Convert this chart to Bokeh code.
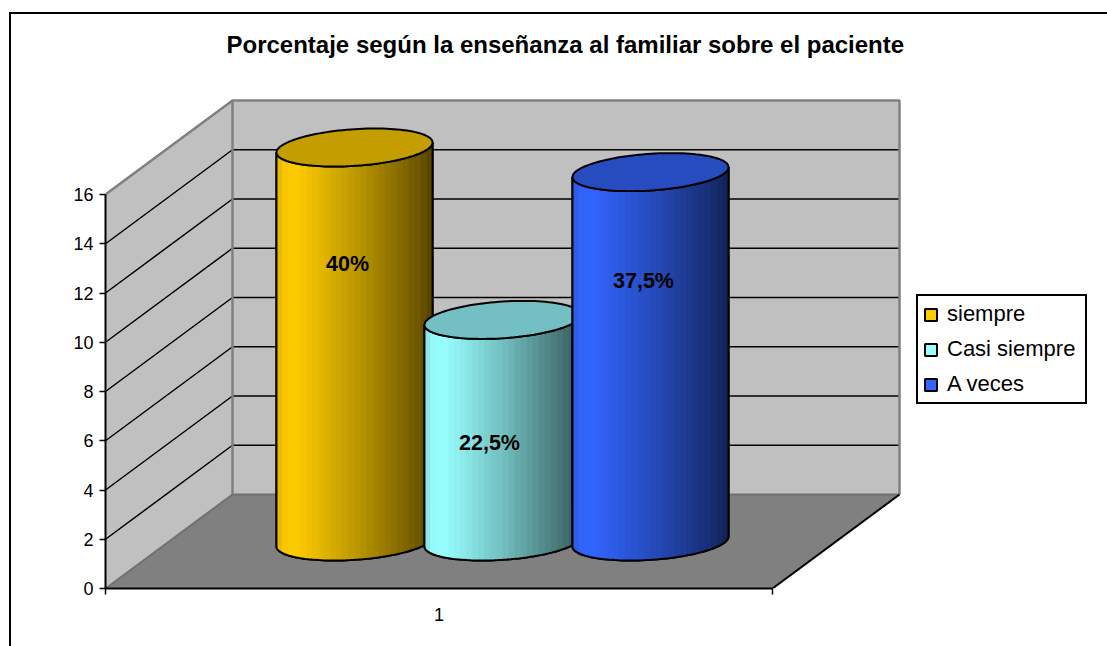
import numpy as np
from bokeh.embed import file_html
from bokeh.resources import INLINE
from bokeh.plotting import figure
from bokeh.models import Range1d, FixedTicker, Legend, LegendItem, Title
from bokeh.core.properties import value

# ---- data ----
TITLE = "Porcentaje según la enseñanza al familiar sobre el paciente"
series = ["siempre", "Casi siempre", "A veces"]
counts = [16, 9, 15]
labels = ["40%", "22,5%", "37,5%"]
y_ticks = [0, 2, 4, 6, 8, 10, 12, 14, 16]
grid_values = [2, 4, 6, 8, 10, 12, 14]
category_ticks = [1]
category_names = {1: "1"}

# ---- style ----
base_colors = ["#FFCC00", "#99FFFF", "#3366FF"]
top_colors = ["#C49D00", "#73BFC4", "#264CBF"]
FONT = "Liberation Sans"
WALL = "#C0C0C0"
FLOOR = "#808080"

# ---- layout (px) ----
PX_PER_X = 667.0
PX_PER_Y = 24.625
FRAME_W, FRAME_H = 995, 522
XMIN = 0.5
XMAX = 1.5
dx3 = 127 / PX_PER_X          # depth shift in x
dy3 = 94 / PX_PER_Y           # depth shift in y
ymax = 16

p = figure(width=1096, height=632, frame_width=FRAME_W, frame_height=FRAME_H,
           x_range=Range1d(XMIN, XMIN + FRAME_W / PX_PER_X),
           y_range=Range1d(0, FRAME_H / PX_PER_Y),
           output_backend="svg", toolbar_location=None,
           min_border_left=94, min_border_right=7, min_border_top=52, min_border_bottom=58,
           background_fill_color="white", border_fill_color="white", outline_line_color=None,
           margin=(14, 0, 0, 11), styles={"box-shadow": "-1px -1px 0 1px black"})
p.grid.visible = False

# title
p.title = Title(text=TITLE, text_font=FONT, text_font_style="bold", text_font_size="24px",
                text_color="black", align="left", offset=121, standoff=18)

# axes
ya = p.yaxis[0]
ya.ticker = FixedTicker(ticks=y_ticks)
ya.bounds = (0, ymax)
ya.major_label_text_font = FONT
ya.major_label_text_font_size = "18px"
ya.major_label_text_color = "black"
ya.major_tick_in = 0
ya.major_tick_out = 6
ya.minor_tick_in = 0
ya.minor_tick_out = 0
ya.axis_line_color = "black"
ya.axis_line_width = 2
ya.major_tick_line_color = "black"
ya.major_tick_line_width = 1.5
ya.major_label_standoff = 6

xa = p.xaxis[0]
xa.ticker = FixedTicker(ticks=category_ticks, minor_ticks=[XMIN, XMAX])
xa.bounds = (XMIN, XMAX)
xa.major_label_overrides = category_names
xa.major_label_text_font = FONT
xa.major_label_text_font_size = "18px"
xa.major_label_text_color = "black"
xa.major_tick_in = 0
xa.major_tick_out = 0
xa.minor_tick_in = 0
xa.minor_tick_out = 6
xa.minor_tick_line_color = "black"
xa.minor_tick_line_width = 1.5
xa.axis_line_color = "black"
xa.axis_line_width = 2
xa.major_label_standoff = 13

# walls and floor
p.patch([XMIN, XMIN + dx3, XMIN + dx3, XMIN], [0, dy3, ymax + dy3, ymax],
        fill_color=WALL, line_color=None)
p.patch([XMIN + dx3, XMAX + dx3, XMAX + dx3, XMIN + dx3], [dy3, dy3, ymax + dy3, ymax + dy3],
        fill_color=WALL, line_color=None)
p.patch([XMIN, XMAX, XMAX + dx3, XMIN + dx3], [0, 0, dy3, dy3],
        fill_color=FLOOR, line_color=None)

# grid lines
gx = [[XMIN, XMIN + dx3, XMAX + dx3] for _ in grid_values]
gy = [[v, v + dy3, v + dy3] for v in grid_values]
p.multi_line(gx, gy, line_color="black", line_width=1.5)

# wall edges
p.line([XMIN, XMIN + dx3, XMAX + dx3, XMAX + dx3], [ymax, ymax + dy3, ymax + dy3, dy3],
       line_color=FLOOR, line_width=2.5)
p.line([XMIN + dx3, XMIN + dx3], [dy3, ymax + dy3], line_color=FLOOR, line_width=2.5)
p.line([XMIN + dx3, XMAX + dx3], [dy3, dy3], line_color="#707070", line_width=2)
p.line([XMIN, XMIN + dx3], [0, dy3], line_color="#707070", line_width=2)
p.line([XMAX, XMAX + dx3], [0, dy3], line_color="black", line_width=2)

# cylinders
R_X = 75.3 / PX_PER_X
SKEW_X = 20.5 / PX_PER_X
R_Y = 19.0 / PX_PER_Y
SERIES_STEP = 148.0 / PX_PER_X
phi = np.arctan2(SKEW_X, R_X)
t_all = np.linspace(0, 2 * np.pi, 121)
t_low = np.linspace(phi + np.pi, phi + 2 * np.pi, 61)


def ellipse(t, cx, cy):
    return cx + R_X * np.cos(t) + SKEW_X * np.sin(t), cy + R_Y * np.sin(t)


def shade(f):
    return np.interp(f, [0, 0.04, 0.12, 0.28, 0.5, 0.75, 0.92, 1.0],
                     [0.86, 0.97, 1.0, 0.90, 0.75, 0.56, 0.42, 0.33])


def mix(hex_color, k):
    r, g, b = [int(hex_color[i:i + 2], 16) for i in (1, 3, 5)]
    return "#%02x%02x%02x" % (int(r * k), int(g * k), int(b * k))


legend_items = []
N_STRIP = 26
for i, (name, v) in enumerate(zip(series, counts)):
    cx = 1.0 + dx3 / 2 + (i - 1) * SERIES_STEP
    base_y = dy3 / 2
    top_y = base_y + v
    xl, yl = ellipse(t_low, cx, base_y)
    xt, yt = ellipse(t_low, cx, top_y)
    # silhouette in the flat colour (also the legend swatch)
    sx = np.concatenate([xl, xt[::-1]])
    sy = np.concatenate([yl, yt[::-1]])
    sil = p.patch(sx, sy, fill_color=base_colors[i], line_color="black", line_width=2)
    legend_items.append(LegendItem(label=name, renderers=[sil]))
    # shaded strips
    edges = np.linspace(xl[0], xl[-1], N_STRIP + 1)
    xs, ys, cols = [], [], []
    for a, b in zip(edges[:-1], edges[1:]):
        mask = (xl > a) & (xl < b)
        xx = np.concatenate([[a], xl[mask], [b]])
        yy = np.interp(xx, xl, yl)
        yt_a, yt_b = np.interp([a, b], xt, yt)
        xs.append(np.concatenate([xx, [b, a]]).tolist())
        ys.append(np.concatenate([yy, [yt_b, yt_a]]).tolist())
        f = ((a + b) / 2 - xl[0]) / (xl[-1] - xl[0])
        cols.append(mix(base_colors[i], float(shade(f))))
    p.patches(xs, ys, fill_color=cols, line_color=cols, line_width=0.6)
    # outline
    p.patch(sx, sy, fill_color=None, line_color="black", line_width=2)
    # top face
    ex, ey = ellipse(t_all, cx, top_y)
    p.patch(ex, ey, fill_color=top_colors[i], line_color="black", line_width=2)

# data labels
label_frac = [0.705, 0.445, 0.705]
label_shift = [-7, -13, -7]
label_x = [1.0 + dx3 / 2 + (i - 1) * SERIES_STEP + label_shift[i] / PX_PER_X for i in range(3)]
label_y = [dy3 / 2 + c * f for c, f in zip(counts, label_frac)]
p.text(label_x, label_y, text=labels, text_font=value(FONT), text_font_style="bold",
       text_font_size="21.5px", text_color="black", text_align="center", text_baseline="middle")

# legend
legend = Legend(items=legend_items, location=(811, 184), orientation="vertical",
                label_text_font=FONT, label_text_font_size="22px", label_text_color="black",
                glyph_width=15, glyph_height=15, label_standoff=9, label_height=25, label_width=133,
                spacing=9, padding=5, margin=0,
                border_line_color="black", border_line_width=2, border_line_alpha=1,
                background_fill_color="white", background_fill_alpha=1)
p.add_layout(legend, "center")

open("out.html", "w").write(file_html(p, INLINE))
